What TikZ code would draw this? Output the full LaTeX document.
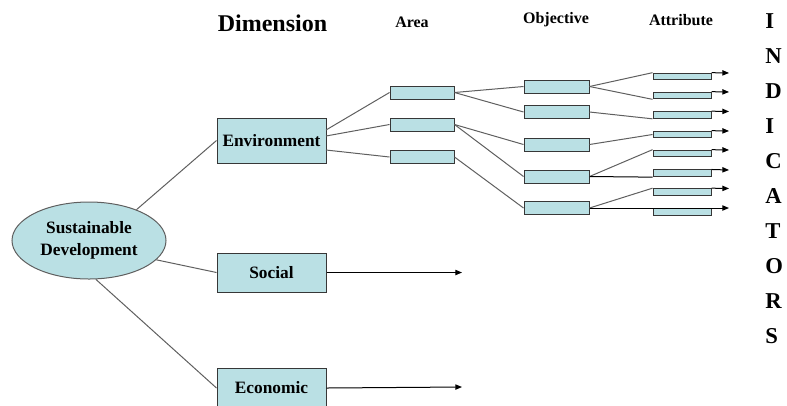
\documentclass[tikz,border=0pt]{standalone}
\usepackage{fontspec}
\setmainfont{Liberation Serif}
\usetikzlibrary{arrows.meta,calc,shapes.geometric}
\definecolor{boxfill}{RGB}{186,224,228}
\definecolor{boxline}{RGB}{55,55,55}
\definecolor{conn}{RGB}{95,95,95}
\begin{document}
\begin{tikzpicture}[x=0.75pt,y=-0.75pt,
  box/.style={draw=boxline, fill=boxfill, line width=0.75pt, inner sep=0pt},
  dimbox/.style={box, minimum width=81.75pt, font=\fontsize{13}{15}\selectfont\bfseries},
  areabox/.style={box, minimum width=48pt, minimum height=9.75pt},
  objbox/.style={box, minimum width=48.75pt, minimum height=9.75pt},
  attrbox/.style={box, minimum width=43.5pt, minimum height=5pt},
  link/.style={draw=conn, line width=0.75pt},
  arr/.style={draw=black, line width=0.75pt, -{Triangle[length=5pt,width=4pt]}},
  title/.style={inner sep=0pt, font=\fontsize{12}{14}\selectfont\bfseries}]
\useasboundingbox (0,0) rectangle (787,405);

% titles
\node[inner sep=0pt, font=\fontsize{18}{20}\selectfont\bfseries] (tdim) at (272.5,23) {Dimension};
\node[title] (tarea) at (412,22) {Area};
\node[title] (tobj) at (556,20) {Objective};
\node[title] (tatt) at (681,20) {Attribute};
\node[inner sep=0pt, anchor=north west, align=left, font=\fontsize{17}{26.25}\selectfont\bfseries] (ind) at (765,13.5) {I\\N\\D\\I\\C\\A\\T\\O\\R\\S};

% root
\node[ellipse, draw=conn, fill=boxfill, line width=0.75pt, minimum width=115.5pt, minimum height=57.75pt, inner sep=0pt, align=center, font=\fontsize{13}{16.5}\selectfont\bfseries] (sd) at (89,240.5) {Sustainable\\Development};

% dimensions
\node[dimbox, minimum height=33.75pt] (env) at (271.5,140.5) {Environment};
\node[dimbox, minimum height=29.25pt] (soc) at (271.5,272.5) {Social};
\node[dimbox, minimum height=30pt] (eco) at (271.5,388) {Economic};

% areas
\node[areabox] (a1) at (422,92.5) {};
\node[areabox] (a2) at (422,124.5) {};
\node[areabox] (a3) at (422,157) {};

% objectives
\node[objbox] (o1) at (556.5,86.5) {};
\node[objbox] (o2) at (556.5,112) {};
\node[objbox] (o3) at (556.5,144.5) {};
\node[objbox] (o4) at (556.5,176.5) {};
\node[objbox] (o5) at (556.5,208) {};

% attributes
\node[attrbox] (b1) at (682,76.5) {};
\node[attrbox] (b2) at (682,95.5) {};
\node[attrbox] (b3) at (682,115) {};
\node[attrbox] (b4) at (682,134.5) {};
\node[attrbox] (b5) at (682,153.5) {};
\node[attrbox] (b6) at (682,173.3) {};
\node[attrbox] (b7) at (682,192) {};
\node[attrbox] (b8) at (682,212) {};

% arrow tips
\coordinate (t1) at (729,73);
\coordinate (t2) at (729,92);
\coordinate (t3) at (729,111.5);
\coordinate (t4) at (729,131);
\coordinate (t5) at (729,150);
\coordinate (t6) at (729,170);
\coordinate (t7) at (729,188.5);
\coordinate (t8) at (729,208);
\coordinate (ts) at (462,272.5);
\coordinate (te) at (462,387);

% env start points
\coordinate (e1) at (326,130);
\coordinate (e2) at (326,136);
\coordinate (e3) at (326,150);

% root links
\draw[link] (sd.33) -- (env.west);
\draw[link] (sd.-16) -- (soc.west);
\draw[link] (sd.-80) -- (eco.west);

% env -> areas
\draw[link] (e1) -- (a1.west);
\draw[link] (e2) -- (a2.west);
\draw[link] (e3) -- (a3.west);

% areas -> objectives
\draw[link] (a1.east) -- (o1.west);
\draw[link] (a1.east) -- (o2.west);
\draw[link] (a2.east) -- (o3.west);
\draw[link] (a2.east) -- (o4.west);
\draw[link] (a3.east) -- (o5.west);

% objectives -> attributes
\draw[link] (o1.east) -- (b1.north west);
\draw[link] (o1.east) -- (b2.south west);
\draw[link] (o2.east) -- (b3.south west);
\draw[link] (o3.east) -- (b4.west);
\draw[link] (o4.east) -- (b5.north west);
\draw[draw=black, line width=0.75pt] (o4.east) -- (b6.south west);
\draw[link] (o5.east) -- (b7.north west);
\draw[arr] (o5.east) -- (t8);

% attribute arrows
\draw[arr] (b1.north east) -- (t1);
\draw[arr] (b2.north east) -- (t2);
\draw[arr] (b3.north east) -- (t3);
\draw[arr] (b4.north east) -- (t4);
\draw[arr] (b5.north east) -- (t5);
\draw[arr] (b6.north east) -- (t6);
\draw[arr] (b7.north east) -- (t7);

% dimension arrows
\draw[arr] (soc.east) -- (ts);
\draw[arr] (eco.east) -- (te);
\end{tikzpicture}
\end{document}
